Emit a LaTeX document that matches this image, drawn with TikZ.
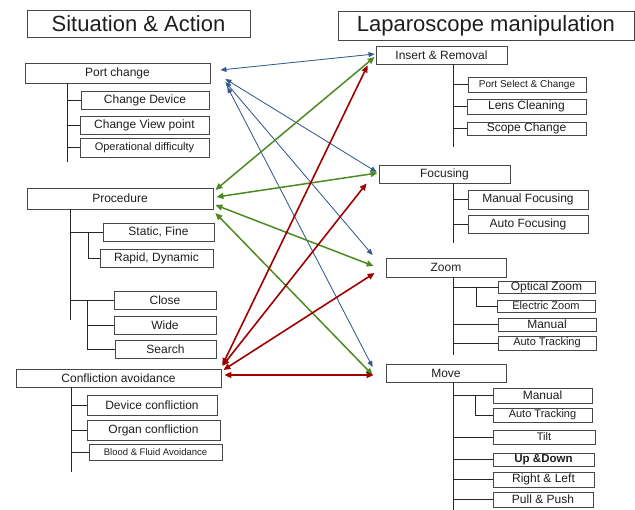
\documentclass[tikz,border=0pt]{standalone}
\usepackage{fontspec}
\setmainfont{Liberation Sans}
\usetikzlibrary{arrows.meta,calc}

\definecolor{linkblue}{HTML}{34598C}
\definecolor{linkgreen}{HTML}{4D8A22}
\definecolor{linkred}{HTML}{A00000}
\definecolor{ink}{HTML}{1E1E1E}

% box from its corners: [options]{name}{x1}{y1}{x2}{y2}{text}
\newcommand\mkbox[7][]{%
  \pgfmathsetmacro\bxc{(#3+#5)/2}%
  \pgfmathsetmacro\byc{(#4+#6)/2}%
  \pgfmathsetmacro\bxw{#5-#3}%
  \pgfmathsetmacro\bxh{#6-#4}%
  \node[box,#1,minimum width=\bxw pt,minimum height=\bxh pt] (#2) at (\bxc,\byc) {#7};}

\begin{document}
\begin{tikzpicture}[x=1pt,y=-1pt,
  box/.style={draw=black!72,line width=0.8pt,inner sep=0pt,text=ink,
    font=\fontsize{12}{14}\selectfont},
  title/.style={font=\fontsize{22}{26}\selectfont},
  small/.style={font=\fontsize{11}{13}\selectfont},
  tiny/.style={font=\fontsize{10}{12}\selectfont},
  tree/.style={draw=black!85,line width=0.8pt},
  bluelink/.style={draw=linkblue,line width=0.8pt,
    arrows={Triangle[length=6pt,width=5pt]-Triangle[length=6pt,width=5pt]},
    fill=linkblue},
  greenlink/.style={draw=linkgreen,line width=1.5pt,
    arrows={Triangle[length=7pt,width=6pt]-Triangle[length=7pt,width=6pt]},
    fill=linkgreen},
  redlink/.style={draw=linkred,line width=1.6pt,
    arrows={Triangle[length=7pt,width=6pt]-Triangle[length=7pt,width=6pt]},
    fill=linkred}]
\useasboundingbox (0,0) rectangle (635,510);

% ---------- headings ----------
\mkbox[title]{tsa}{27}{10}{250}{37}{Situation \& Action}
\mkbox[title]{tlm}{338}{11}{634}{40}{Laparoscope manipulation}

% ---------- situation & action ----------
\mkbox{pc}{25}{63}{210}{83}{Port change}
\mkbox{cd}{81}{91}{209}{109}{Change Device}
\mkbox{cv}{80}{116}{209}{134}{Change View point}
\mkbox[small]{od}{80}{138}{209}{157}{Operational difficulty}

\mkbox{pr}{27}{188}{213}{209}{Procedure}
\mkbox{sf}{103}{223}{214}{241}{Static, Fine}
\mkbox{rd}{100}{249}{213}{267}{Rapid, Dynamic}
\mkbox{cl}{114}{291}{216}{309}{Close}
\mkbox{wd}{114}{316}{216}{334}{Wide}
\mkbox{se}{115}{340}{216}{358}{Search}

\mkbox{ca}{16}{369}{221}{387}{Confliction avoidance}
\mkbox{dc}{87}{395}{217}{415}{Device confliction}
\mkbox{oc}{87}{420}{220}{440}{Organ confliction}
\mkbox[font=\fontsize{9.5}{11}\selectfont]{bf}{89}{444}{222}{460}{Blood \& Fluid Avoidance}

% ---------- laparoscope manipulation ----------
\mkbox{ir}{376}{46}{507}{64}{Insert \& Removal}
\mkbox[tiny]{ps}{468}{77}{586}{92}{Port Select \& Change}
\mkbox{lc}{467}{99}{586}{114}{Lens Cleaning}
\mkbox{sc}{467}{122}{586}{135}{Scope Change}

\mkbox{fo}{379}{165}{510}{183}{Focusing}
\mkbox{mf}{468}{190}{588}{209}{Manual Focusing}
\mkbox{af}{468}{215}{588}{233}{Auto Focusing}

\mkbox{zo}{386}{258}{506}{277}{Zoom}
\mkbox{oz}{498}{281}{595}{293}{Optical Zoom}
\mkbox[small]{ez}{497}{300}{595}{312}{Electric Zoom}
\mkbox{zm}{498}{318}{596}{331}{Manual}
\mkbox[small]{za}{498}{336}{596}{350}{Auto Tracking}

\mkbox{mv}{386}{364}{506}{382}{Move}
\mkbox{mm}{493}{388}{592}{403}{Manual}
\mkbox[small]{mt}{493}{408}{592}{422}{Auto Tracking}
\mkbox[small]{ti}{493}{430}{595}{444}{Tilt}
\mkbox[font=\fontsize{11.5}{13}\selectfont\bfseries]{ud}{493}{453}{594}{466}{Up \&Down}
\mkbox{rl}{493}{472}{594}{487}{Right \& Left}
\mkbox{pp}{493}{492}{593}{507}{Pull \& Push}

% ---------- tree spines ----------
\coordinate (lA) at (67,0);
\coordinate (lB) at (70,0);
\coordinate (lB1) at (88,0);
\coordinate (lB2) at (87,0);
\coordinate (lC) at (71,0);
\coordinate (rA) at (453,0);
\coordinate (rZ) at (476,0);
\coordinate (rM) at (475,0);

\draw[tree] (pc.south -| lA) -- ++(0,79);
\foreach \n in {cd,cv,od} \draw[tree] (\n.west -| lA) -- (\n.west);

\draw[tree] (pr.south -| lB) -- ++(0,111);
\draw[tree] (sf.west -| lB) -- (sf.west);
\draw[tree] (sf.west -| lB1) -- (rd.west -| lB1) -- (rd.west);
\draw[tree] (cl.west -| lB) -- (cl.west);
\draw[tree] (cl.west -| lB2) -- (se.west -| lB2) -- (se.west);
\draw[tree] (wd.west -| lB2) -- (wd.west);

\draw[tree] (ca.south -| lC) -- ++(0,85);
\foreach \n in {dc,oc,bf} \draw[tree] (\n.west -| lC) -- (\n.west);

\draw[tree] (ir.south -| rA) -- ++(0,83);
\foreach \n in {ps,lc,sc} \draw[tree] (\n.west -| rA) -- (\n.west);

\draw[tree] (fo.south -| rA) -- ++(0,60);
\foreach \n in {mf,af} \draw[tree] (\n.west -| rA) -- (\n.west);

\draw[tree] (zo.south -| rA) -- ++(0,78);
\draw[tree] (oz.west -| rA) -- (oz.west);
\draw[tree] (oz.west -| rZ) -- (ez.west -| rZ) -- (ez.west);
\foreach \n in {zm,za} \draw[tree] (\n.west -| rA) -- (\n.west);

\draw[tree] (mv.south -| rA) -- ++(0,130);
\draw[tree] (mm.west -| rA) -- (mm.west);
\draw[tree] (mm.west -| rM) -- (mt.west -| rM) -- (mt.west);
\foreach \n in {ti,ud,rl,pp} \draw[tree] (\n.west -| rA) -- (\n.west);

% ---------- links: port change ----------
\draw[bluelink] ([shift={(10,-3)}]pc.east) -- ([shift={(-1,-1)}]ir.west);
\draw[bluelink] ([shift={(15,6)}]pc.east) -- ([shift={(-2,-2)}]fo.west);
\draw[bluelink] ([shift={(15,9)}]pc.east) -- ([shift={(-13,-12.5)}]zo.west);
\draw[bluelink] ([shift={(17,14)}]pc.east) -- ([shift={(-13,-6)}]mv.west);

% ---------- links: procedure ----------
\draw[greenlink] ([shift={(2,-8.5)}]pr.east) -- ([shift={(-1,2)}]ir.west);
\draw[greenlink] ([shift={(3,-1.5)}]pr.east) -- ([shift={(-1,-1)}]fo.west);
\draw[greenlink] ([shift={(2,6.5)}]pr.east) -- ([shift={(-12,-1.5)}]zo.west);
\draw[greenlink] ([shift={(2,14.5)}]pr.east) -- ([shift={(-13,2)}]mv.west);

% ---------- links: confliction avoidance ----------
\draw[redlink] ([shift={(1,-13)}]ca.east) -- ([shift={(-8,1)}]ir.south west);
\draw[redlink] ([shift={(1,-12)}]ca.east) -- ([shift={(-12,0)}]fo.south west);
\draw[redlink] ([shift={(2,-8)}]ca.east) -- ([shift={(-11,5.5)}]zo.west);
\draw[redlink] ([shift={(3,-3)}]ca.east) -- ([shift={(-12,2)}]mv.west);
\end{tikzpicture}
\end{document}
